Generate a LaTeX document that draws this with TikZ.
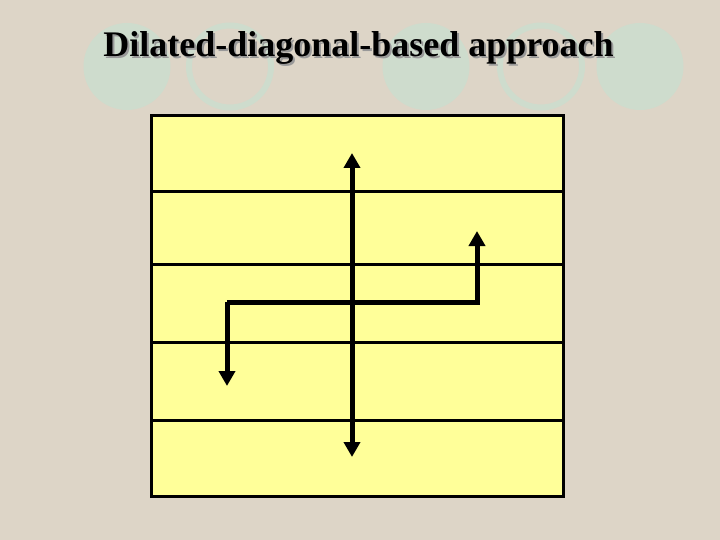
\documentclass[tikz,border=0pt]{standalone}
\usepackage{fontspec}
\setmainfont{Liberation Serif}
\usepackage{xcolor}
\usetikzlibrary{arrows.meta}
\definecolor{paper}{RGB}{221,213,199}
\definecolor{disc}{RGB}{206,220,205}
\definecolor{pad}{RGB}{255,255,153}
\tikzstyle{row} = [line width=3pt, -]
\tikzstyle{route} = [line width=5pt, {Triangle[length=15pt,width=16pt]}-{Triangle[length=15pt,width=16pt]}]
\tikzstyle{oneway} = [line width=5pt, -{Triangle[length=15pt,width=16pt]}, line join=miter]
\newcommand{\shadowed}[1]{\rlap{\kern2pt\raisebox{-2pt}{\color{black!40}#1}}#1}

\begin{document}
\begin{tikzpicture}[x=1pt, y=-1pt]
\useasboundingbox[fill=paper] (0,0) rectangle (720,540);

\foreach \cx in {127,426,640} \fill[disc] (\cx,66.5) circle (43.5);
\foreach \cx in {230,541} \draw[disc, line width=6pt] (\cx,66.5) circle (41);

\node[anchor=base, font=\bfseries\fontsize{36}{40}\selectfont] (title) at (358.5,57) {\shadowed{Dilated-diagonal-based approach}};

\node[draw, fill=pad, line width=3pt, minimum width=412pt, minimum height=381pt, inner sep=0pt] (grid) at (357.5,306) {};

\foreach \y in {192,264,342,420}
    \draw[row] (grid.west |- 0,\y) -- (grid.east |- 0,\y);

\coordinate (top) at (352,153);
\coordinate (bottom) at (352,457);
\coordinate (left) at (227,386);
\coordinate (right) at (477,231);

\draw[route] (top) -- (bottom);
\draw[oneway] (left |- 0,302) -- (left);
\draw[oneway] (left |- 0,302) -- (right |- 0,302) -- (right);
\end{tikzpicture}
\end{document}
